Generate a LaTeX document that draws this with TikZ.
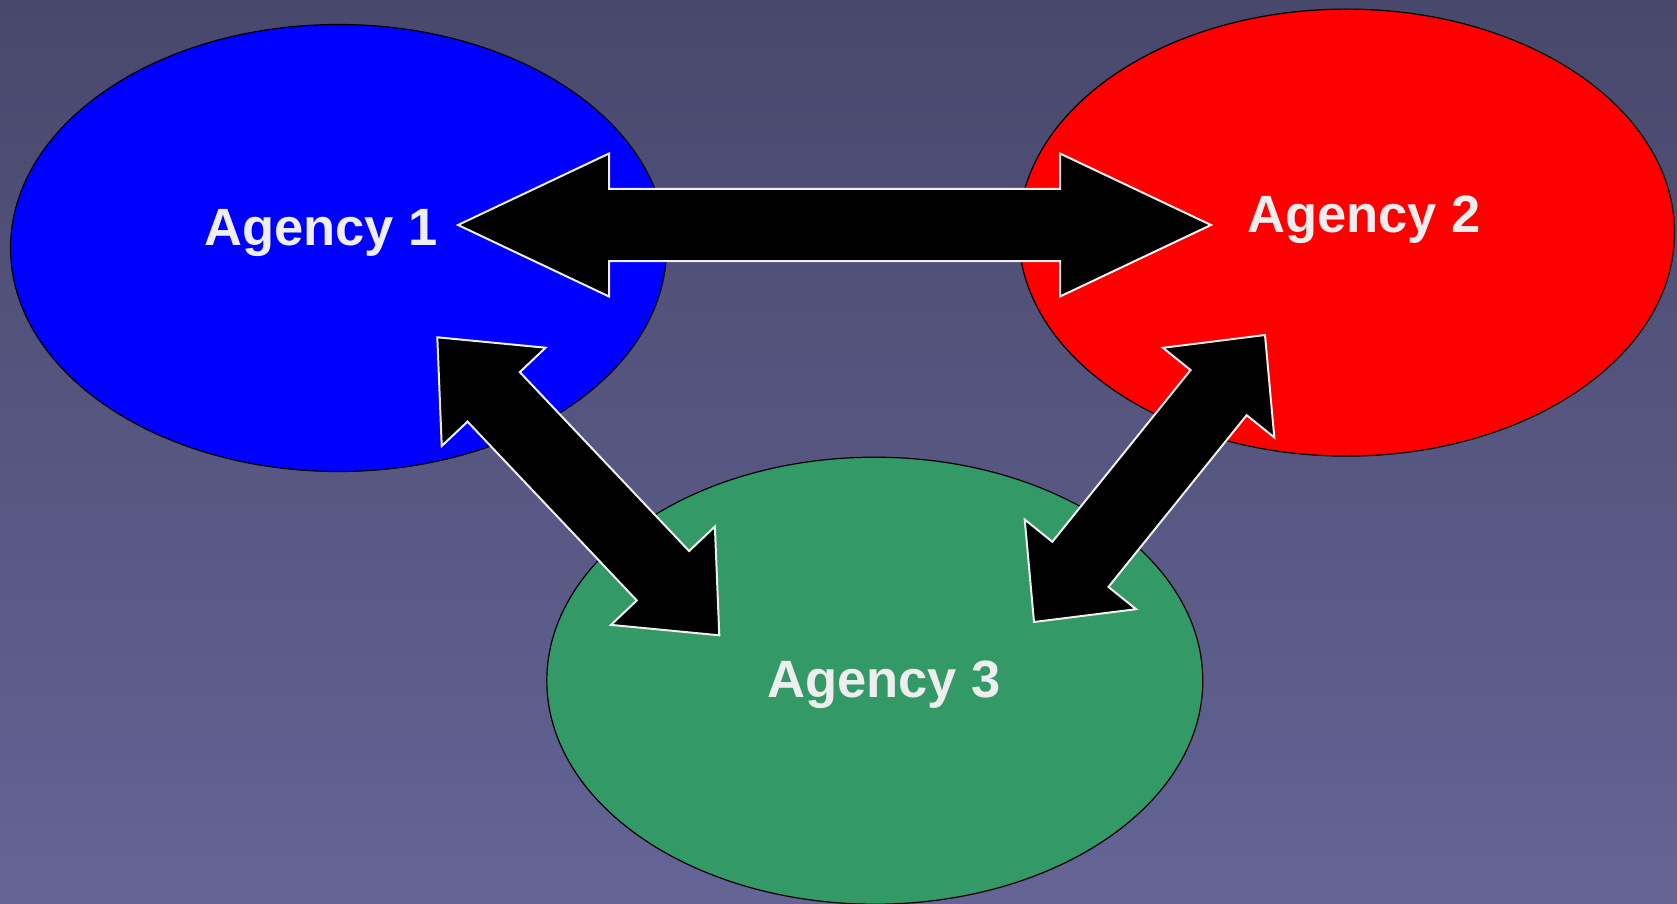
\documentclass[tikz,border=0pt]{standalone}
\usepackage{fontspec}
\setmainfont{Liberation Sans}
\usetikzlibrary{positioning, calc, shapes.geometric}

\definecolor{bgtop}{RGB}{72,72,108}
\definecolor{bgbottom}{RGB}{100,100,150}
\definecolor{agencygreen}{RGB}{51,153,102}
\definecolor{labelgray}{RGB}{238,238,238}

\tikzset{
  agency/.style={ellipse, draw=black, line width=1.2pt, inner sep=0pt,
    minimum width=656pt, minimum height=447pt},
  agencytext/.style={text=labelgray, anchor=base,
    font=\fontsize{52.5}{60}\selectfont\bfseries},
  link/.style={fill=black, draw=labelgray, line width=2pt, line join=miter}
}

\begin{document}
\begin{tikzpicture}[x=1pt, y=-1pt]

        \shade[top color=bgtop, bottom color=bgbottom] (0,0) rectangle (1677,904);
        \useasboundingbox (0,0) rectangle (1677,904);

        \node[agency, fill=blue] (a1) at (338.5,248) {};
        \node[agency, fill=red] (a2) at (1346.5,232.6) {};
        \node[agency, fill=agencygreen] (a3) at (874.8,680.7) {};

        \node[agencytext] (l1) at (321,245) {Agency 1};
        \node[agencytext] (l2) at (1364,232.7) {Agency 2};
        \node[agencytext] (l3) at (884,697) {Agency 3};

        % arrow tips
        \coordinate (p1) at (458,225);
        \coordinate (p2) at (1211,225);
        \coordinate (q1) at (437.3,337.3);
        \coordinate (q3) at (719.3,635.3);
        \coordinate (r2) at (1265,335);
        \coordinate (r3) at (1034,622);

        \foreach \a/\b/\h in {p1/p2/151pt, q1/q3/82pt, r2/r3/74pt}
            \draw[link] (\a)
                -- ($(\a)!\h!(\b)!71.5pt!90:(\b)$)
                -- ($(\a)!\h!(\b)!36pt!90:(\b)$)
                -- ($(\b)!\h!(\a)!36pt!-90:(\a)$)
                -- ($(\b)!\h!(\a)!71.5pt!-90:(\a)$)
                -- (\b)
                -- ($(\b)!\h!(\a)!71.5pt!90:(\a)$)
                -- ($(\b)!\h!(\a)!36pt!90:(\a)$)
                -- ($(\a)!\h!(\b)!36pt!-90:(\b)$)
                -- ($(\a)!\h!(\b)!71.5pt!-90:(\b)$)
                -- cycle;
    \end{tikzpicture}
\end{document}
